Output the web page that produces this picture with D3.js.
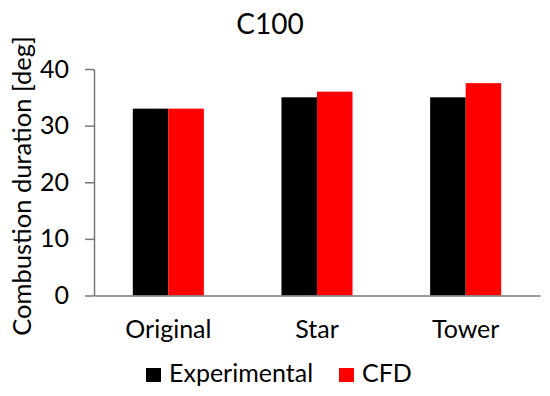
<!DOCTYPE html>
<html><head><meta charset="utf-8">
<script src="https://cdn.jsdelivr.net/npm/d3@7/dist/d3.min.js"></script>
<style>body{margin:0;background:#fff}svg{display:block}</style>
</head><body>
<svg id="c" width="550" height="396"></svg>
<script>
const categories = ["Original", "Star", "Tower"];
const seriesNames = ["Experimental", "CFD"];
const experimental = [33, 35, 35];
const cfd = [33, 36, 37.5];
const yTicks = [0, 10, 20, 30, 40];
const colors = ["#000000", "#ff0000"];
const title = "C100";
const yLabel = "Combustion duration [deg]";

const FONT = "Lato, 'Open Sans', sans-serif";
const svg = d3.select("#c");
const mLeft = 94, mRight = 540, mTop = 69, mBottom = 295.5;

const x0 = d3.scaleBand().domain(categories).range([mLeft, mRight]).paddingInner(0.522).paddingOuter(0.261);
const x1 = d3.scaleBand().domain(seriesNames).range([0, x0.bandwidth()]);
const y = d3.scaleLinear().domain([0, 40]).range([mBottom, mTop]);

const data = categories.map((c, i) => ({cat: c, vals: [experimental[i], cfd[i]]}));

svg.append("g").selectAll("g").data(data).join("g")
  .attr("transform", d => `translate(${x0(d.cat)},0)`)
  .selectAll("rect").data(d => d.vals.map((v, j) => ({v, s: seriesNames[j], j})))
  .join("rect")
  .attr("x", d => x1(d.s)).attr("width", x1.bandwidth())
  .attr("y", d => y(d.v)).attr("height", d => y(0) - y(d.v))
  .attr("fill", d => colors[d.j]);

// y axis
const yAxis = svg.append("g").attr("transform", `translate(${mLeft},0)`)
  .call(d3.axisLeft(y).tickValues(yTicks).tickSize(9).tickSizeOuter(0).tickPadding(16));
yAxis.select(".domain").attr("stroke", "#777").attr("stroke-width", 1.5);
yAxis.selectAll(".tick line").attr("stroke", "#777").attr("stroke-width", 1.5);
yAxis.selectAll(".tick text").attr("font-family", FONT).attr("font-size", 25).attr("fill", "#000");

// x axis
const xAxis = svg.append("g").attr("transform", `translate(0,${mBottom})`)
  .call(d3.axisBottom(x0).tickSize(0).tickSizeOuter(0).tickPadding(25));
xAxis.select(".domain").attr("stroke", "#777").attr("stroke-width", 1.5);
xAxis.selectAll(".tick text").attr("font-family", FONT).attr("font-size", 25).attr("fill", "#000");

// title
svg.append("text").attr("x", 270).attr("y", 34).attr("text-anchor", "middle")
  .attr("font-family", FONT).attr("font-size", 28).attr("fill", "#000").text(title);

// y label
svg.append("text").attr("transform", "translate(31,186) rotate(-90)").attr("text-anchor", "middle")
  .attr("font-family", FONT).attr("font-size", 25.5).attr("fill", "#000").text(yLabel);

// legend
const legendX = [146, 339];
const lg = svg.append("g").selectAll("g").data(seriesNames).join("g")
  .attr("transform", (d, i) => `translate(${legendX[i]},368)`);
lg.append("rect").attr("width", 15).attr("height", 14).attr("fill", (d, i) => colors[i]);
lg.append("text").attr("x", 23).attr("y", 14).attr("font-family", FONT).attr("font-size", 25)
  .attr("fill", "#000").text(d => d);
</script>
</body></html>
